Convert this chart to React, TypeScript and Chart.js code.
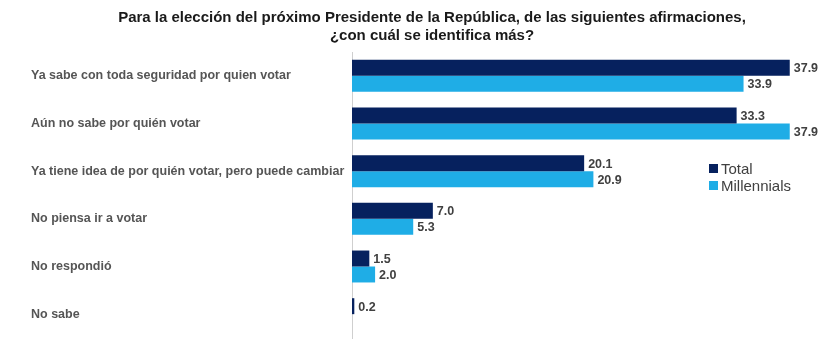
import React, { useEffect, useRef } from "react";
import { Chart, registerables } from "chart.js";

Chart.register(...registerables);

const TITLE_LINES = [
  "Para la elección del próximo Presidente de la República, de las siguientes afirmaciones,",
  "¿con cuál se identifica más?",
];
const CATEGORIES = [
  "Ya sabe con toda seguridad por quien votar",
  "Aún no sabe por quién votar",
  "Ya tiene idea de por quién votar, pero puede cambiar",
  "No piensa ir a votar",
  "No respondió",
  "No sabe",
];
const SERIES_NAMES = ["Total", "Millennials"];
const TOTAL_VALUES = [37.9, 33.3, 20.1, 7.0, 1.5, 0.2];
const MILLENNIALS_VALUES: (number | null)[] = [33.9, 37.9, 20.9, 5.3, 2.0, null];
const COLORS = ["#06215e", "#1fade6"];
const FONT = "'Liberation Sans', Arial, sans-serif";

const titlePlugin = {
  id: "customTitle",
  afterDraw(chart: any) {
    const ctx = chart.ctx;
    ctx.save();
    ctx.font = `bold 15px ${FONT}`;
    ctx.fillStyle = "#1a1a1a";
    ctx.textAlign = "center";
    ctx.textBaseline = "middle";
    TITLE_LINES.forEach((line, i) => {
      ctx.fillText(line, 432, 18 + i * 18);
    });
    ctx.restore();
  },
};

const dataLabelPlugin = {
  id: "dataLabels",
  afterDatasetsDraw(chart: any) {
    const ctx = chart.ctx;
    ctx.save();
    ctx.font = `bold 12.5px ${FONT}`;
    ctx.fillStyle = "#404040";
    ctx.textBaseline = "middle";
    ctx.textAlign = "left";
    chart.data.datasets.forEach((ds: any, di: number) => {
      const meta = chart.getDatasetMeta(di);
      meta.data.forEach((bar: any, i: number) => {
        const v = ds.data[i];
        if (v === null || v === undefined) return;
        ctx.fillText(Number(v).toFixed(1), bar.x + 4, bar.y + 1);
      });
    });
    ctx.restore();
  },
};

export default function App() {
  const ref = useRef<HTMLCanvasElement | null>(null);
  useEffect(() => {
    if (!ref.current) return;
    const chart = new Chart(ref.current, {
      type: "bar",
      data: {
        labels: CATEGORIES,
        datasets: [
          {
            label: SERIES_NAMES[0],
            data: TOTAL_VALUES,
            backgroundColor: COLORS[0],
            barPercentage: 1,
            categoryPercentage: 0.67,
          },
          {
            label: SERIES_NAMES[1],
            data: MILLENNIALS_VALUES,
            backgroundColor: COLORS[1],
            barPercentage: 1,
            categoryPercentage: 0.67,
          },
        ],
      },
      options: {
        indexAxis: "y",
        animation: false,
        responsive: false,
        maintainAspectRatio: false,
        layout: { padding: { left: 31, right: 22, top: 52, bottom: 5 } },
        plugins: {
          legend: { display: false },
          tooltip: { enabled: false },
          title: { display: false },
        },
        scales: {
          x: {
            display: false,
            min: 0,
            max: 40,
          },
          y: {
            grid: { display: false },
            border: { display: true, color: "#cfcfcf", width: 1 },
            ticks: {
              crossAlign: "far",
              color: "#555555",
              font: { family: FONT, size: 12.5, weight: "bold" },
              padding: 4,
            },
            afterFit(scale: any) {
              scale.width = 321;
              scale.paddingTop = 0;
              scale.paddingBottom = 0;
            },
          },
        },
      } as any,
      plugins: [dataLabelPlugin, titlePlugin],
    });
    return () => chart.destroy();
  }, []);

  return (
    <div style={{ position: "fixed", left: 0, top: 0, width: 836, height: 343, background: "#fff" }}>
      <canvas ref={ref} width={836} height={343} style={{ width: 836, height: 343 }} />
      <div
        style={{
          position: "absolute",
          left: 709,
          top: 160,
          fontFamily: FONT,
          fontSize: 15,
          color: "#404040",
          lineHeight: "17px",
        }}
      >
        {SERIES_NAMES.map((n, i) => (
          <div key={n} style={{ display: "flex", alignItems: "center" }}>
            <span
              style={{
                display: "inline-block",
                width: 9,
                height: 9,
                background: COLORS[i],
                marginRight: 3,
              }}
            />
            <span>{n}</span>
          </div>
        ))}
      </div>
    </div>
  );
}
